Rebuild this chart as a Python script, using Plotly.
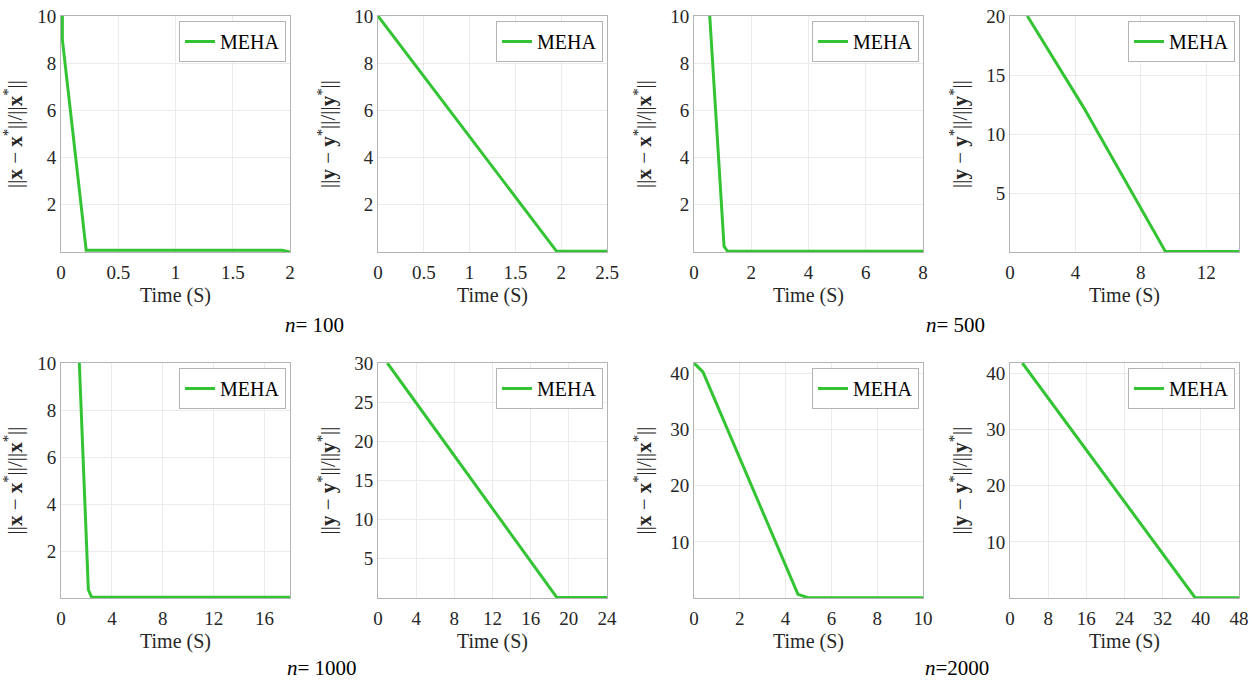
import plotly.graph_objects as go

# ---------------- data ----------------
t_100_x = [0.012, 0.012, 0.22, 1.93, 2.0]
e_100_x = [10.0, 9.0, 0.07, 0.07, 0.0]
t_100_y = [0.0, 1.95, 2.5]
e_100_y = [10.0, 0.03, 0.03]

t_500_x = [0.55, 1.05, 1.17, 8.0]
e_500_x = [10.0, 0.24, 0.03, 0.03]
t_500_y = [1.06, 4.48, 9.5, 14.0]
e_500_y = [20.0, 12.3, 0.05, 0.05]

t_1000_x = [1.44, 2.15, 2.41, 18.0]
e_1000_x = [10.0, 0.35, 0.03, 0.03]
t_1000_y = [0.98, 18.75, 24.0]
e_1000_y = [30.0, 0.05, 0.05]

t_2000_x = [0.0, 0.39, 4.54, 4.98, 10.0]
e_2000_x = [41.9, 40.3, 0.65, 0.05, 0.05]
t_2000_y = [2.59, 38.8, 48.0]
e_2000_y = [41.9, 0.05, 0.05]

series = [
    (t_100_x, e_100_x), (t_100_y, e_100_y), (t_500_x, e_500_x), (t_500_y, e_500_y),
    (t_1000_x, e_1000_x), (t_1000_y, e_1000_y), (t_2000_x, e_2000_x), (t_2000_y, e_2000_y),
]
x_ranges = [[0, 2], [0, 2.5], [0, 8], [0, 14], [0, 18], [0, 24], [0, 10], [0, 48]]
y_ranges = [[0, 10], [0, 10], [0, 10], [0, 20], [0, 10], [0, 30], [0, 41.9], [0, 41.9]]
x_ticks = [[0, 0.5, 1, 1.5, 2], [0, 0.5, 1, 1.5, 2, 2.5], [0, 2, 4, 6, 8], [0, 4, 8, 12],
           [0, 4, 8, 12, 16], [0, 4, 8, 12, 16, 20, 24], [0, 2, 4, 6, 8, 10],
           [0, 8, 16, 24, 32, 40, 48]]
y_ticks = [[2, 4, 6, 8, 10], [2, 4, 6, 8, 10], [2, 4, 6, 8, 10], [5, 10, 15, 20],
           [2, 4, 6, 8, 10], [5, 10, 15, 20, 25, 30], [10, 20, 30, 40], [10, 20, 30, 40]]
x_title = "Time (S)"
y_title_x = "||<b>x</b> − <b>x</b><sup>*</sup>||/||<b>x</b><sup>*</sup>||"
y_title_y = "||<b>y</b> − <b>y</b><sup>*</sup>||/||<b>y</b><sup>*</sup>||"
legend_name = "MEHA"
n_labels = ["<i>n</i>= 100", "<i>n</i>= 500", "<i>n</i>= 1000", "<i>n</i>=2000"]

# ---------------- layout geometry (page pixels; body margin removed by post_script) ----------------
W, H = 1252, 681
col_px = [(61, 290), (378, 607), (694, 923), (1010, 1239)]
row_px = [(16, 252), (363, 598)]

GREEN = "#33c433"
FONT = "Times New Roman, Liberation Serif, serif"
GRID = "#ebebeb"
BOX = "#b4b4b4"
TXT = "#262626"


def px_x(p):
    return p / W


def px_y(p):
    return 1 - p / H


fig = go.Figure()
layout = dict(
    width=W, height=H, margin=dict(l=0, r=0, t=0, b=0),
    paper_bgcolor="white", plot_bgcolor="white",
    font=dict(family=FONT, size=19, color=TXT),
    annotations=[],
)

for i, (tx, ey) in enumerate(series):
    r, c = divmod(i, 4)
    k = i + 1
    xa = "x" if k == 1 else f"x{k}"
    ya = "y" if k == 1 else f"y{k}"
    lg = "legend" if k == 1 else f"legend{k}"
    x0, x1 = col_px[c]
    yt, yb = row_px[r]
    fig.add_trace(go.Scatter(
        x=tx, y=ey, mode="lines", name=legend_name,
        line=dict(color=GREEN, width=3), xaxis=xa, yaxis=ya, legend=lg,
        showlegend=True,
    ))
    axis_common = dict(
        showgrid=True, gridcolor=GRID, gridwidth=1,
        showline=True, linecolor=BOX, linewidth=1, mirror=True,
        zeroline=False, ticks="", automargin=False,
        ticklabeloverflow="allow",
        tickfont=dict(family=FONT, size=19, color=TXT),
    )
    layout["xaxis" if k == 1 else f"xaxis{k}"] = dict(
        axis_common, domain=[px_x(x0), px_x(x1)], range=x_ranges[i], tickvals=x_ticks[i],
        anchor=ya, ticklabelstandoff=3,
        title=dict(text=x_title, font=dict(family=FONT, size=20, color=TXT), standoff=6),
    )
    layout["yaxis" if k == 1 else f"yaxis{k}"] = dict(
        axis_common, domain=[px_y(yb), px_y(yt)], range=y_ranges[i], tickvals=y_ticks[i],
        anchor=xa,
        title=dict(text=y_title_x if c % 2 == 0 else y_title_y,
                   font=dict(family=FONT, size=21, color=TXT), standoff=12),
    )
    layout[lg] = dict(
        x=px_x(x1 - 4), y=px_y(yt + 5), xanchor="right", yanchor="top",
        bgcolor="white", bordercolor=BOX, borderwidth=1,
        font=dict(family=FONT, size=20, color="#000000"),
        itemwidth=30, tracegroupgap=0,
    )

label_pos = [(314, 325), (955, 325), (322, 668), (957, 668)]
for txt, (px, py) in zip(n_labels, label_pos):
    layout["annotations"].append(dict(
        text=txt, x=px_x(px), y=px_y(py), xref="paper", yref="paper",
        showarrow=False, font=dict(family=FONT, size=21, color="#000000"),
        xanchor="center", yanchor="middle",
    ))

fig.update_layout(**layout)
fig.write_html(
    "out.html",
    config={"displayModeBar": False},
    post_script="document.body.style.margin='0px';document.body.style.overflow='hidden';",
)
